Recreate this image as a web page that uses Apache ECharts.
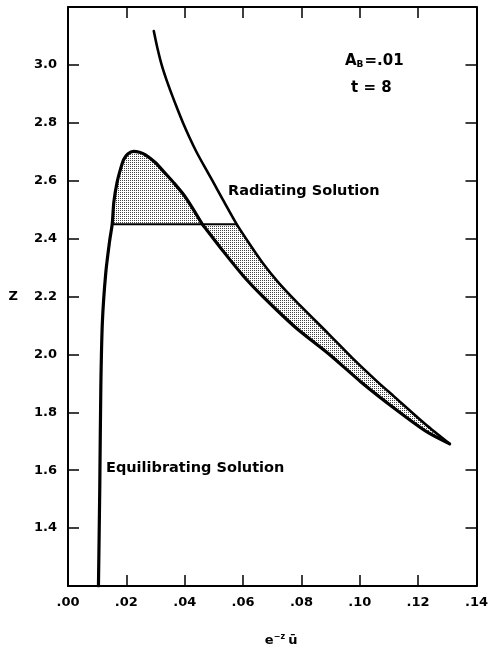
<!DOCTYPE html>
<html><head><meta charset="utf-8">
<script src="https://cdn.jsdelivr.net/npm/echarts@6/dist/echarts.min.js"></script>
<style>html,body{margin:0;padding:0;background:#fff}#c{width:491px;height:652px}</style>
</head><body><div id="c"></div>
<script>
// ---- data ----
const xTickLabels = ['.00', '.02', '.04', '.06', '.08', '.10', '.12', '.14'];
const yTickLabels = ['', '1.4', '1.6', '1.8', '2.0', '2.2', '2.4', '2.6', '2.8', '3.0', ''];

// Equilibrating Solution
const eqX = [0.01044, 0.0109, 0.01125, 0.01178, 0.01293, 0.01427, 0.01515, 0.01572, 0.01684, 0.0180, 0.0191, 0.0205, 0.02246, 0.0245, 0.0264, 0.0300, 0.0331, 0.0365, 0.0399, 0.0430, 0.0460, 0.0477, 0.0533, 0.0601, 0.0668, 0.0780, 0.0892, 0.1004, 0.1117, 0.1229, 0.1308];
const eqZ = [1.20, 1.55, 1.886, 2.111, 2.28, 2.392, 2.45, 2.527, 2.595, 2.64, 2.673, 2.692, 2.701, 2.698, 2.69, 2.662, 2.628, 2.59, 2.548, 2.50, 2.45, 2.428, 2.355, 2.271, 2.20, 2.093, 2.003, 1.905, 1.815, 1.733, 1.691];

// Radiating Solution
const radX = [0.0294, 0.0306, 0.0321, 0.0337, 0.0355, 0.0374, 0.0394, 0.0416, 0.0440, 0.0467, 0.0495, 0.0536, 0.0578, 0.0620, 0.0668, 0.0720, 0.0780, 0.0892, 0.0982, 0.1061, 0.1117, 0.1229, 0.1308];
const radZ = [3.117, 3.06, 3.00, 2.95, 2.90, 2.85, 2.80, 2.75, 2.70, 2.65, 2.60, 2.525, 2.45, 2.385, 2.315, 2.25, 2.185, 2.072, 1.98, 1.905, 1.855, 1.755, 1.691];

// horizontal line (equal-area construction)
const plateauZ = 2.45;
const plateauX = [0.01515, 0.0578];
const eqCrossX = 0.0460;

const eqData = eqX.map((x, i) => [x, eqZ[i]]);
const radData = radX.map((x, i) => [x, radZ[i]]);
const plateauData = plateauX.map(x => [x, plateauZ]);

// shaded regions built from the curves
const region1 = eqData.filter(p => p[0] >= plateauX[0] - 1e-9 && p[0] <= eqCrossX + 1e-9);
const region2 = radData.filter(p => p[0] >= plateauX[1] - 1e-9)
  .concat(eqData.filter(p => p[0] >= eqCrossX - 1e-9).reverse());

// stipple pattern
const pc = document.createElement('canvas');
pc.width = 2; pc.height = 2;
const pctx = pc.getContext('2d');
pctx.fillStyle = '#ffffff'; pctx.fillRect(0, 0, 2, 2);
pctx.fillStyle = '#444444'; pctx.fillRect(0, 0, 1, 1);
const stipple = { image: pc, repeat: 'repeat' };

const FONT = 'DejaVu Sans';
const axisLine = { show: true, onZero: false, lineStyle: { color: '#000', width: 2 } };
const axisTick = { show: true, inside: true, length: 11, lineStyle: { color: '#000', width: 1.5 } };

const chart = echarts.init(document.getElementById('c'), null, { renderer: 'canvas' });
chart.setOption({
  animation: false,
  backgroundColor: '#fff',
  grid: { left: 68, right: 7, top: 7, bottom: 52 },
  xAxis: [
    {
      type: 'value', position: 'bottom', min: 0, max: 0.14, interval: 0.02,
      axisLine, axisTick, splitLine: { show: false },
      axisLabel: {
        color: '#000', fontFamily: FONT, fontSize: 13, fontWeight: 'bold', margin: 10,
        formatter: v => xTickLabels[Math.round(v / 0.02)] || ''
      },
      name: '{e|e}{s|−z} {e|ū}', nameLocation: 'middle', nameGap: 47,
      nameTextStyle: {
        padding: [0, 0, 0, 18],
        rich: {
          e: { fontFamily: FONT, fontSize: 13, fontWeight: 'bold', color: '#000', verticalAlign: 'bottom' },
          s: { fontFamily: FONT, fontSize: 8, fontWeight: 'bold', color: '#000', verticalAlign: 'bottom', padding: [0, 0, 6, 0] }
        }
      }
    },
    {
      type: 'value', position: 'top', min: 0, max: 0.14, interval: 0.02,
      axisLine, axisTick, splitLine: { show: false }, axisLabel: { show: false }
    }
  ],
  yAxis: [
    {
      type: 'value', position: 'left', min: 1.2, max: 3.2, interval: 0.2,
      axisLine, axisTick, splitLine: { show: false },
      axisLabel: {
        color: '#000', fontFamily: FONT, fontSize: 13, fontWeight: 'bold', margin: 11,
        formatter: v => yTickLabels[Math.round((v - 1.2) / 0.2)] || ''
      },
      name: 'Z', nameLocation: 'middle', nameGap: 50, nameRotate: 0,
      nameTextStyle: { color: '#000', fontFamily: FONT, fontSize: 13, fontWeight: 'bold' }
    },
    {
      type: 'value', position: 'right', min: 1.2, max: 3.2, interval: 0.2,
      axisLine, axisTick, splitLine: { show: false }, axisLabel: { show: false }
    }
  ],
  series: [
    {
      type: 'custom', name: 'shading', data: [[0, 0]], silent: true, z: 1,
      renderItem: (params, api) => ({
        type: 'group',
        children: [
          { type: 'polygon', shape: { points: region1.map(p => api.coord(p)) }, style: { fill: stipple } },
          { type: 'polygon', shape: { points: region2.map(p => api.coord(p)) }, style: { fill: stipple } }
        ]
      })
    },
    {
      type: 'line', name: 'Equilibrating Solution', data: eqData, showSymbol: false, z: 3, smooth: 0.25,
      lineStyle: { color: '#000', width: 3.2, join: 'round', cap: 'round' }
    },
    {
      type: 'line', name: 'Radiating Solution', data: radData, showSymbol: false, z: 3, smooth: 0.2,
      lineStyle: { color: '#000', width: 2.6, join: 'round', cap: 'round' }
    },
    {
      type: 'line', name: 'plateau', data: plateauData, showSymbol: false, z: 3,
      lineStyle: { color: '#000', width: 2 }
    }
  ],
  graphic: [
    {
      type: 'text', left: 345, top: 54, z: 10,
      style: {
        text: '{a|A}{b|B}{a|=.01}',
        rich: {
          a: { fontFamily: FONT, fontSize: 15, fontWeight: 'bold', fill: '#000', verticalAlign: 'bottom' },
          b: { fontFamily: FONT, fontSize: 9, fontWeight: 'bold', fill: '#000', verticalAlign: 'bottom', padding: [0, 1, 0, 0] }
        }
      }
    },
    {
      type: 'text', left: 351, top: 81, z: 10,
      style: { text: 't = 8', fontFamily: FONT, fontSize: 15, fontWeight: 'bold', fill: '#000' }
    },
    {
      type: 'text', left: 228, top: 184, z: 10,
      style: { text: 'Radiating Solution', fontFamily: FONT, fontSize: 14.5, fontWeight: 'bold', fill: '#000' }
    },
    {
      type: 'text', left: 106, top: 461, z: 10,
      style: { text: 'Equilibrating Solution', fontFamily: FONT, fontSize: 14.5, fontWeight: 'bold', fill: '#000' }
    }
  ]
});
</script>
</body></html>
